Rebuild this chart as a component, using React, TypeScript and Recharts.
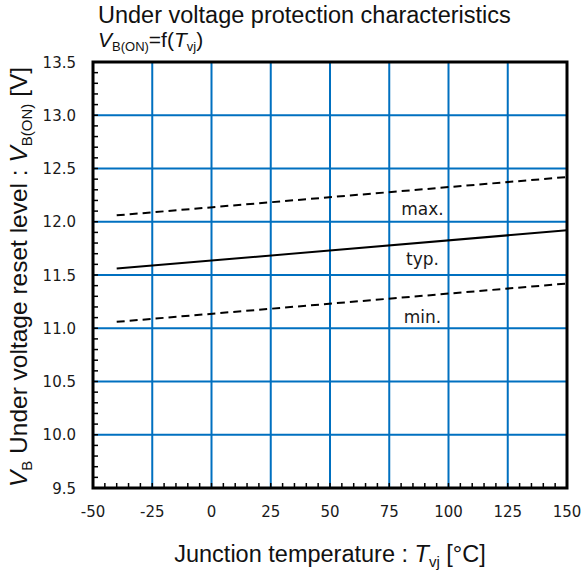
import React from "react";
import {
  LineChart,
  Line,
  XAxis,
  YAxis,
  CartesianGrid,
  ReferenceArea,
  ReferenceDot,
} from "recharts";

// Tvj in °C, VB(ON) in V
const temps = [-40, 150];
const typV = [11.56, 11.92];
const maxV = [12.06, 12.42];
const minV = [11.06, 11.42];

const xTicks = [-50, -25, 0, 25, 50, 75, 100, 125, 150];
const yTicks = [9.5, 10.0, 10.5, 11.0, 11.5, 12.0, 12.5, 13.0, 13.5];

const curveNames = ["max.", "typ.", "min."];
const curveNameT = 89;
const curveNameV = [12.06, 11.59, 11.05];

const data = temps.map((t, i) => ({
  t,
  typ: typV[i],
  max: maxV[i],
  min: minV[i],
}));

// minor ticks: 5 subdivisions between major ticks
function subdivide(major: number[], n: number) {
  const out: number[] = [];
  for (let i = 0; i < major.length - 1; i++) {
    const step = (major[i + 1] - major[i]) / n;
    for (let k = 0; k < n; k++) out.push(Math.round((major[i] + k * step) * 1000) / 1000);
  }
  out.push(major[major.length - 1]);
  return out;
}
const xMinor = subdivide(xTicks, 5);
const yMinor = subdivide(yTicks, 5);

const tickFont = "'DejaVu Sans', Verdana, sans-serif";
const labelFont = "'Liberation Sans', Arial, Helvetica, sans-serif";
const blue = "#0070C0";

const XTick = (props: any) => {
  const { x, y, payload } = props;
  const major = xTicks.includes(payload.value);
  return (
    <g>
      <line x1={x} y1={y} x2={x} y2={y - 5} stroke="#000" strokeWidth={1.5} />
      {major && (
        <text x={x} y={y + 29} textAnchor="middle" fontFamily={tickFont} fontSize={15} fill="#1a1a1a">
          {payload.value}
        </text>
      )}
    </g>
  );
};

const YTick = (props: any) => {
  const { x, y, payload } = props;
  const major = yTicks.includes(payload.value);
  return (
    <g>
      <line x1={x} y1={y} x2={x + 5} y2={y} stroke="#000" strokeWidth={1.5} />
      {major && (
        <text x={x - 17} y={y + 5.5} textAnchor="end" fontFamily={tickFont} fontSize={15} fill="#1a1a1a">
          {payload.value.toFixed(1)}
        </text>
      )}
    </g>
  );
};

const CurveName = (text: string) => (props: any) => {
  const { viewBox } = props;
  const cx = viewBox.x + viewBox.width / 2;
  const cy = viewBox.y + viewBox.height / 2;
  return (
    <text x={cx} y={cy} textAnchor="middle" fontFamily={tickFont} fontSize={17} fill="#1a1a1a">
      {text}
    </text>
  );
};

export default function App() {
  return (
    <div style={{ position: "relative", width: 582, height: 574, background: "#fff" }}>
      <style>{`body{margin:0}`}</style>
      <LineChart
        width={582}
        height={574}
        data={data}
        margin={{ top: 62, right: 15, bottom: 56, left: 33 }}
      >
        <CartesianGrid
          stroke={blue}
          strokeWidth={2}
          verticalValues={xTicks.slice(1, -1)}
          horizontalValues={yTicks.slice(1, -1)}
        />
        <XAxis
          dataKey="t"
          type="number"
          domain={[-50, 150]}
          ticks={xMinor}
          interval={0}
          tick={<XTick />}
          tickSize={0}
          tickMargin={0}
          tickLine={false}
          axisLine={false}
          height={30}
          allowDataOverflow
        />
        <YAxis
          type="number"
          domain={[9.5, 13.5]}
          ticks={yMinor}
          interval={0}
          tick={<YTick />}
          tickSize={0}
          tickMargin={0}
          tickLine={false}
          axisLine={false}
          width={60}
          allowDataOverflow
        />
        <ReferenceArea
          x1={-50}
          x2={150}
          y1={9.5}
          y2={13.5}
          fill="none"
          fillOpacity={0}
          stroke="#000"
          strokeWidth={3}
          ifOverflow="visible"
        />
        <Line type="linear" dataKey="max" stroke="#000" strokeWidth={2} strokeDasharray="8 5" dot={false} isAnimationActive={false} />
        <Line type="linear" dataKey="typ" stroke="#000" strokeWidth={2} dot={false} isAnimationActive={false} />
        <Line type="linear" dataKey="min" stroke="#000" strokeWidth={2} strokeDasharray="8 5" dot={false} isAnimationActive={false} />
        {curveNames.map((name, i) => (
          <ReferenceDot
            key={name}
            x={curveNameT}
            y={curveNameV[i]}
            r={1}
            fill="none"
            stroke="none"
            label={CurveName(name)}
          />
        ))}
      </LineChart>
      <svg
        width={582}
        height={574}
        style={{ position: "absolute", left: 0, top: 0, pointerEvents: "none" }}
      >
        <text x={98} y={23} fontFamily={labelFont} fontSize={23.5} fill="#111">
          Under voltage protection characteristics
        </text>
        <text x={98} y={47} fontFamily={labelFont} fontSize={21} fill="#111">
          <tspan fontStyle="italic">V</tspan>
          <tspan fontSize={13} dy={4}>B(ON)</tspan>
          <tspan dy={-4}>=f(</tspan>
          <tspan fontStyle="italic">T</tspan>
          <tspan fontSize={13} dy={4}>vj</tspan>
          <tspan dy={-4}>)</tspan>
        </text>
        <text
          x={0}
          y={0}
          transform="translate(27,277) rotate(-90)"
          textAnchor="middle"
          fontFamily={labelFont}
          fontSize={24.5}
          fill="#111"
        >
          <tspan fontStyle="italic">V</tspan>
          <tspan fontSize={15} dy={5}>B</tspan>
          <tspan dy={-5}> Under voltage reset level : </tspan>
          <tspan fontStyle="italic">V</tspan>
          <tspan fontSize={15} dy={5}>B(ON)</tspan>
          <tspan dy={-5}> [V]</tspan>
        </text>
        <text x={330} y={562} textAnchor="middle" fontFamily={labelFont} fontSize={23.5} fill="#111">
          Junction temperature : <tspan fontStyle="italic">T</tspan>
          <tspan fontSize={15} dy={5}>vj</tspan>
          <tspan dy={-5}> [°C]</tspan>
        </text>
      </svg>
    </div>
  );
}
